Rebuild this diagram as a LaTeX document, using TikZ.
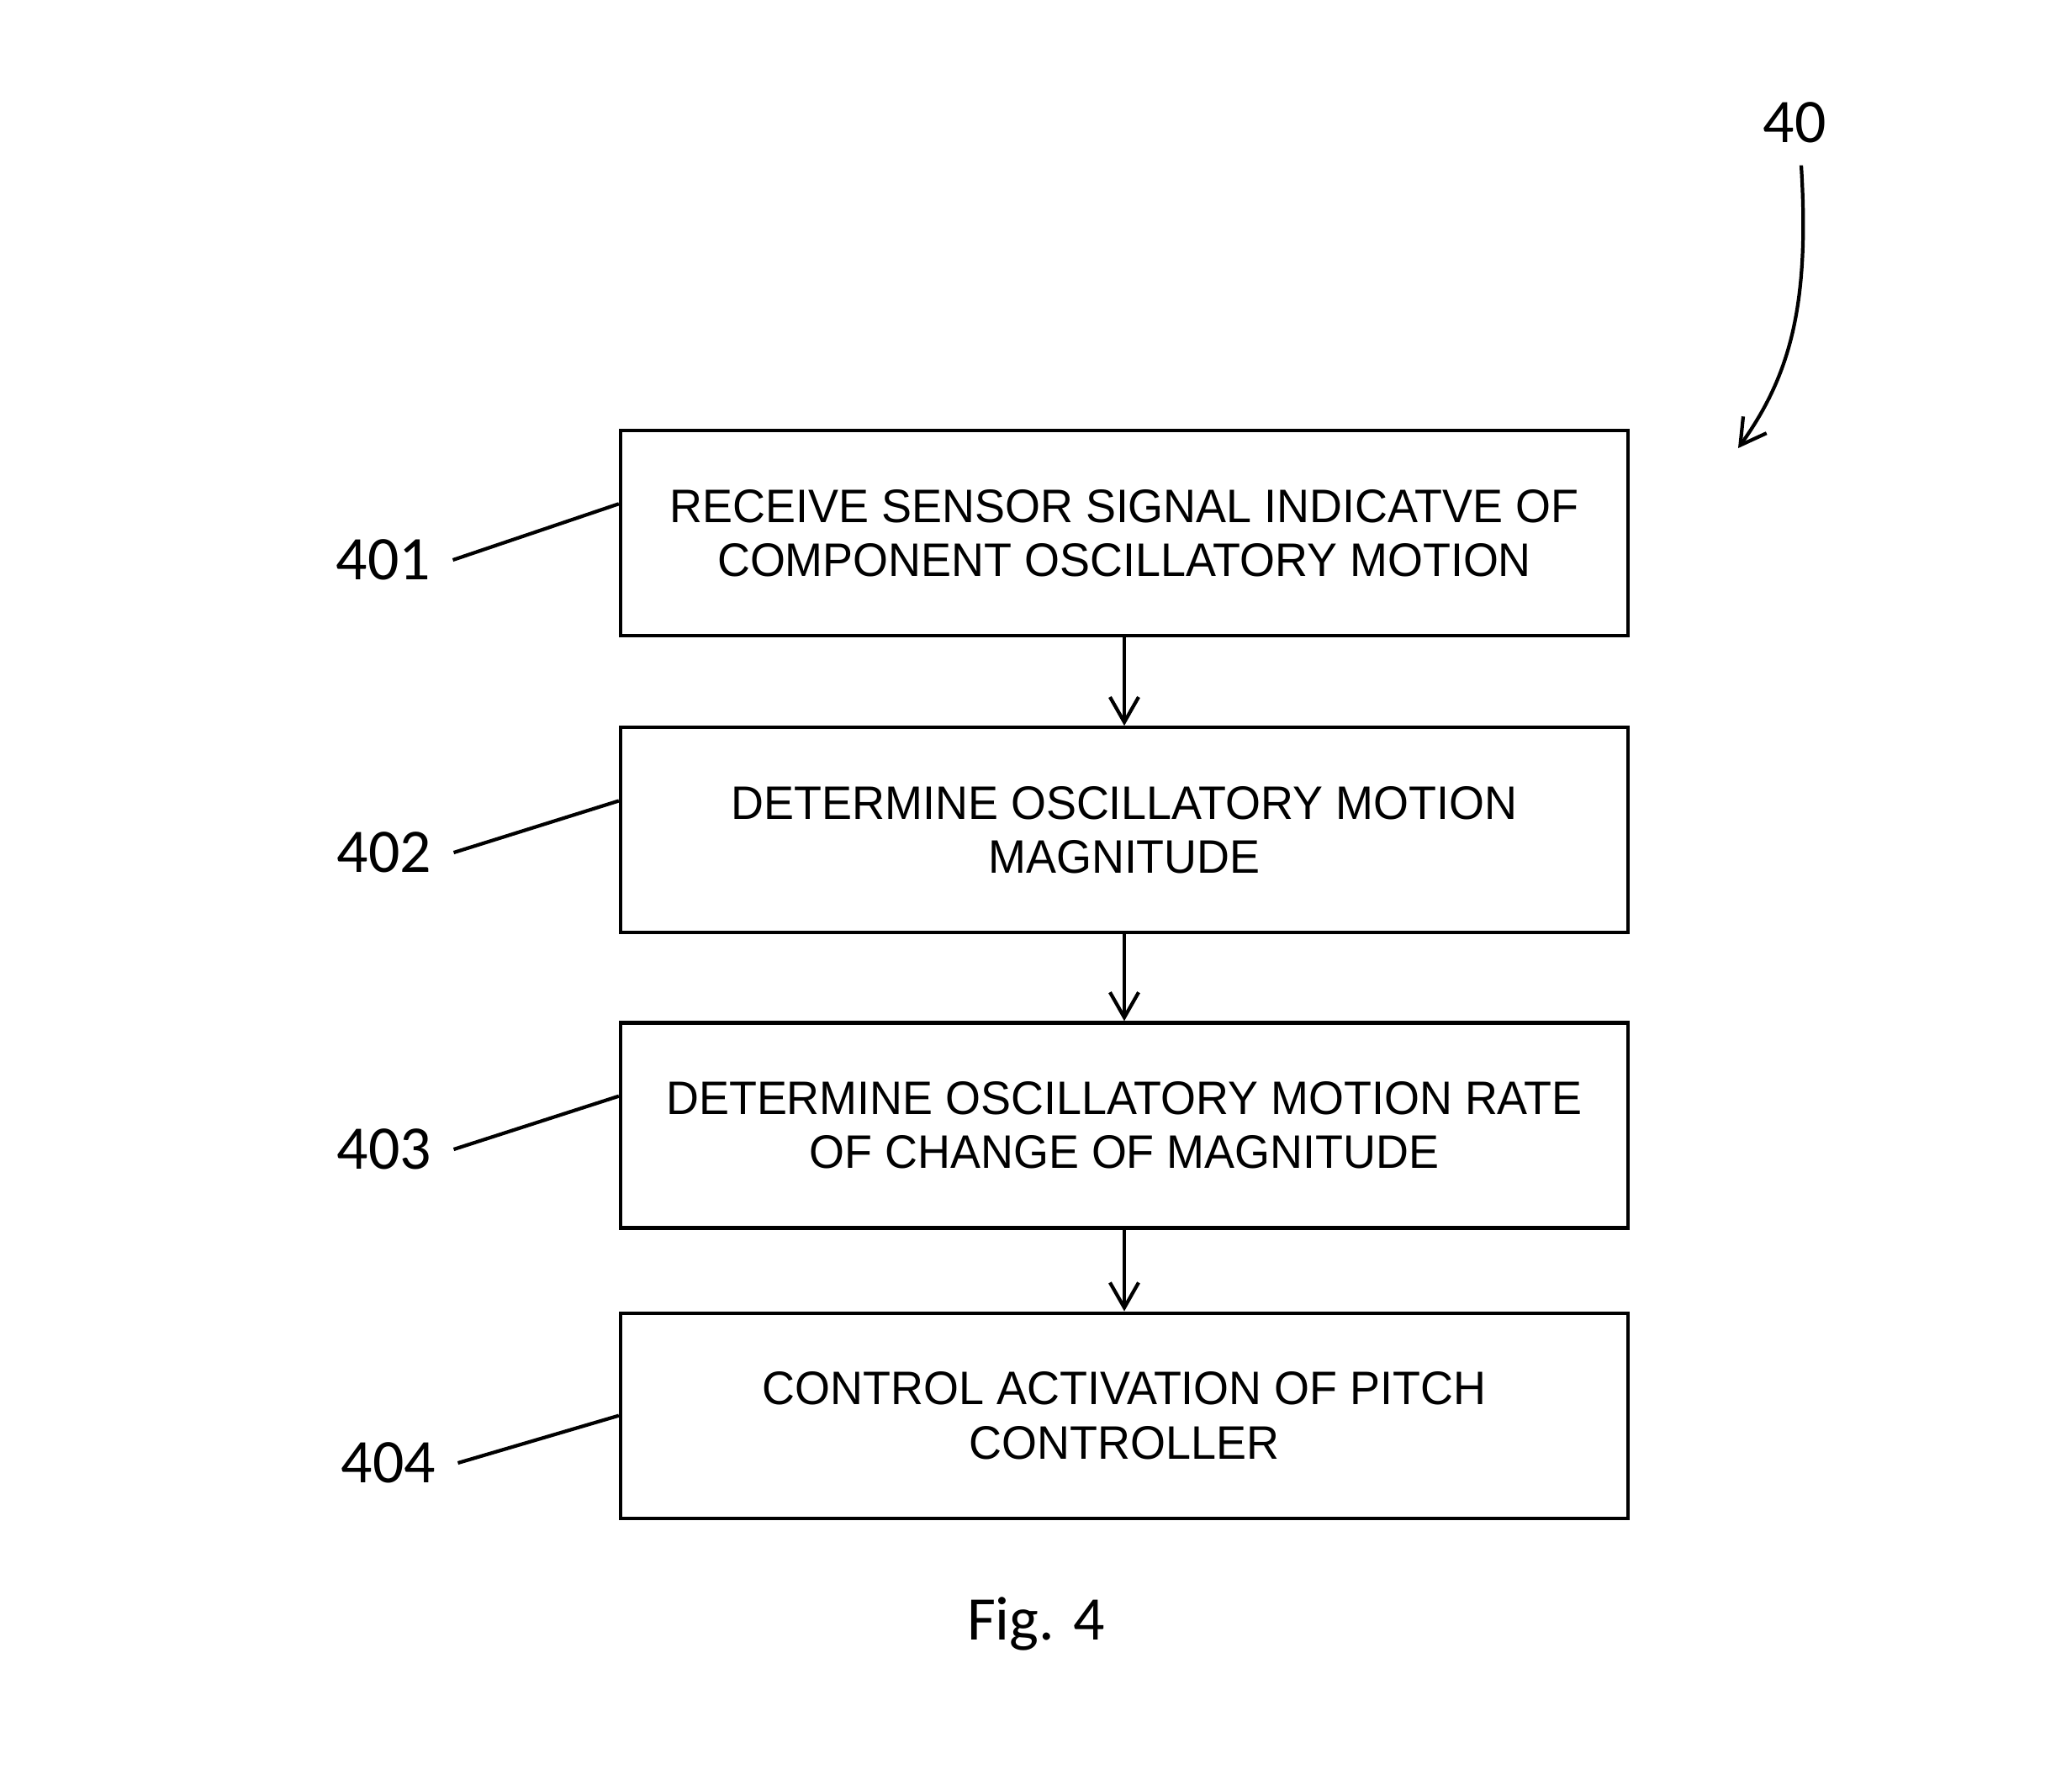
\documentclass[tikz,border=0pt]{standalone}
\usepackage{fontspec}
\setmainfont{Liberation Sans}
\newfontfamily\boxfont{Liberation Sans}[FakeStretch=0.965]
\newfontfamily\labelfont{Carlito}
\usetikzlibrary{calc,arrows.meta,positioning}

\begin{document}
\begin{tikzpicture}[
  stepbox/.style={draw, line width=1.2pt, minimum width=11.98cm, minimum height=2.44cm,
    align=center, font=\boxfont\fontsize{15.9}{18.3}\selectfont},
  reflabel/.style={font=\labelfont\fontsize{21}{25}\selectfont},
  flowarrow/.style={line width=1.2pt, -{Straight Barb[length=8.5pt,width=9.7pt]}},
  node distance=1.05cm]
  \useasboundingbox (0,0) rectangle (24.64,-21.03);
  \node[stepbox] (s1) at (13.37,-6.34) {RECEIVE SENSOR SIGNAL INDICATVE OF\\COMPONENT OSCILLATORY MOTION};
  \node[stepbox, below=of s1] (s2) {DETERMINE OSCILLATORY MOTION\\MAGNITUDE};
  \node[stepbox, below=1.03cm of s2] (s3) {DETERMINE OSCILLATORY MOTION RATE\\OF CHANGE OF MAGNITUDE};
  \node[stepbox, below=0.97cm of s3] (s4) {CONTROL ACTIVATION OF PITCH\\CONTROLLER};
  \draw[flowarrow] (s1) -- (s2);
  \draw[flowarrow] (s2) -- (s3);
  \draw[flowarrow] (s3) -- (s4);
  \node[reflabel] (n401) at (4.56,-6.66) {401};
  \node[reflabel] (n402) at (4.57,-10.14) {402};
  \node[reflabel] (n403) at (4.57,-13.67) {403};
  \node[reflabel] (n404) at (4.62,-17.40) {404};
  \draw[line width=1.2pt] ([xshift=0.14cm]n401.east) -- ($(s1.north west)!0.36!(s1.south west)$);
  \draw[line width=1.2pt] ([xshift=0.14cm]n402.east) -- ($(s2.north west)!0.36!(s2.south west)$);
  \draw[line width=1.2pt] ([xshift=0.14cm]n403.east) -- ($(s3.north west)!0.36!(s3.south west)$);
  \draw[line width=1.2pt] ([xshift=0.14cm]n404.east) -- (s4.west);
  \node[reflabel] (n40) at (21.34,-1.46) {40};
  \coordinate (c40) at (20.67,-5.33);
  \draw[flowarrow] ([xshift=0.08cm,yshift=-0.14cm]n40.south) .. controls (21.52,-3.60) and (21.30,-4.45) .. (c40);
  \node[reflabel] (fig) at (12.32,-19.31) {Fig. 4};
\end{tikzpicture}
\end{document}
